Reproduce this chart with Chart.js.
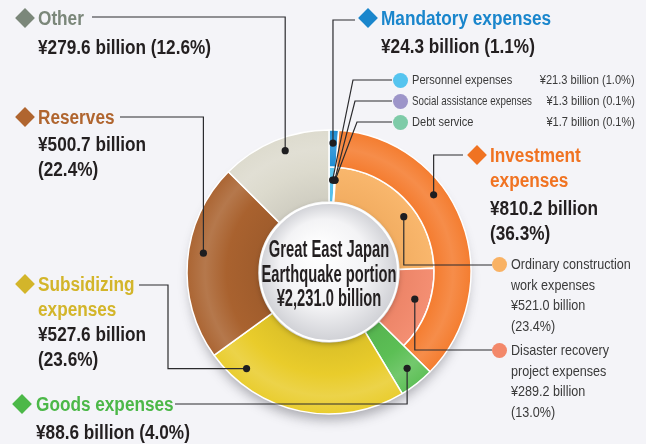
<!DOCTYPE html>
<html lang="en">
<head>
<meta charset="UTF-8">
<title>Great East Japan Earthquake portion</title>
<script src="https://cdn.jsdelivr.net/npm/chart.js@4.4.0/dist/chart.umd.min.js"></script>
<style>
  html, body { margin: 0; padding: 0; background: #f4f4f8; }
  .wrap { position: relative; width: 646px; height: 444px; overflow: hidden;
          font-family: 'Liberation Sans', Arial, sans-serif; }
  canvas { position: absolute; left: 0; top: 0; }
  .t { position: absolute; white-space: nowrap; transform-origin: left center; }
  .big { font-size: 20px; line-height: 24px; font-weight: bold; color: #231f20; transform: scaleX(0.86); }
  .small { font-size: 15px; line-height: 20px; color: #3a3a3a; transform: scaleX(0.84); }
  .note { font-size: 13.5px; line-height: 18px; color: #3a3a3a; transform: scaleX(0.82); }
  .mid { font-size: 23px; line-height: 24px; font-weight: bold; color: #231f20;
         transform-origin: center; text-align: center; width: 260px; transform: scaleX(0.64); }
  .diamond { position: absolute; transform: rotate(45deg); }
  .dot { position: absolute; border-radius: 50%; }
</style>
</head>
<body>
<div class="wrap" id="wrap">
  <canvas id="chart" width="646" height="444"></canvas>
</div>
<script>
// budget breakdown, billions of yen
const categories = ['Mandatory expenses', 'Investment expenses', 'Goods expenses', 'Subsidizing expenses', 'Reserves', 'Other'];
const amounts = [24.3, 810.2, 88.6, 527.6, 500.7, 279.6];
const shares = [1.1, 36.3, 4.0, 23.6, 22.4, 12.6];

const subCategories = ['Personnel expenses', 'Social assistance expenses', 'Debt service',
  'Ordinary construction work expenses', 'Disaster recovery project expenses'];
const subAmounts = [21.3, 1.3, 1.7, 521.0, 289.2];
const subShares = [1.0, 0.1, 0.1, 23.4, 13.0];
const totalAmount = 2231.0;

const mainColors = ['#1b8bd2', '#f47a2c', '#5cbf55', '#e9cc2b', '#a9622f', '#dcdacd'];
const titleColors = ['#1a86cc', '#f07322', '#4cb848', '#d3b52a', '#b0652f', '#7b877a'];
const subColors = ['#55c4ef', '#9d95c9', '#7ecba8', '#f9b264', '#f3886a'];

// categories that are split in the inner ring: 0 and 1; the rest fill the whole band
const splitCount = 2;
const innerData = subAmounts.concat(amounts.slice(splitCount));

const R_OUT = 142, R_MID = 105, R_IN = 70;

function mix(hex, target, t) {
  const n = parseInt(hex.slice(1), 16);
  const c = [n >> 16, (n >> 8) & 255, n & 255].map(v => Math.round(v + (target - v) * t));
  return 'rgb(' + c.join(',') + ')';
}

function radial(c, color, r0, r1, stops) {
  const area = c.chart.chartArea;
  if (!area) return color;
  const cx = (area.left + area.right) / 2, cy = (area.top + area.bottom) / 2;
  const g = c.chart.ctx.createRadialGradient(cx, cy, r0, cx, cy, r1);
  stops.forEach(s => g.addColorStop(s[0], s[1] > 0 ? mix(color, 255, s[1]) : mix(color, 0, -s[1])));
  return g;
}

const fmt = v => v.toLocaleString('en-US', { minimumFractionDigits: 1, maximumFractionDigits: 1 });

// where each leader dot sits: position along the slice and distance from centre
const leaders = [
  { ds: 0, i: 0, f: 0.45, r: 129, path: d => [[355, 20], [d.x, 20], [d.x, d.y]] },
  { ds: 0, i: 1, f: 0.38, r: 130, path: d => [[463, 155], [d.x, 155], [d.x, d.y]] },
  { ds: 0, i: 2, f: 0.44, r: 124, path: d => [[175, 404], [d.x, 404], [d.x, d.y]] },
  { ds: 0, i: 3, f: 0.84, r: 127, path: d => [[139, 285], [168, 285], [168, d.y], [d.x, d.y]] },
  { ds: 0, i: 4, f: 0.55, r: 127, path: d => [[120, 117], [d.x, 117], [d.x, d.y]] },
  { ds: 0, i: 5, f: 0.56, r: 129, path: d => [[92, 17], [d.x, 17], [d.x, d.y]] },
  { ds: 1, i: 0, f: 0.65, r: 92, path: d => [[392, 80], [353, 80], [d.x, d.y]] },
  { ds: 1, i: 1, f: 0.5, r: 92, path: d => [[392, 101], [355, 101], [d.x, d.y]] },
  { ds: 1, i: 2, f: 0.5, r: 92, path: d => [[392, 122], [357, 122], [d.x, d.y]] },
  { ds: 1, i: 3, f: 0.59, r: 93, path: d => [[492, 265], [d.x, 265], [d.x, d.y]] },
  { ds: 1, i: 4, f: 0.42, r: 90, path: d => [[492, 350], [d.x, 350], [d.x, d.y]] }
];

const sunburst = {
  id: 'sunburst',
  afterDatasetsUpdate(chart) {
    // whole-band categories: stretch the outer arcs down to the hub
    const outer = chart.getDatasetMeta(0), inner = chart.getDatasetMeta(1);
    for (let i = splitCount; i < outer.data.length; i++) {
      outer.data[i].innerRadius = inner.controller.innerRadius;
    }
  },
  beforeDatasetsDraw(chart) {
    const { ctx, chartArea } = chart;
    const cx = (chartArea.left + chartArea.right) / 2, cy = (chartArea.top + chartArea.bottom) / 2;
    ctx.save();
    ctx.shadowColor = 'rgba(60,60,70,0.4)';
    ctx.shadowBlur = 12;
    ctx.shadowOffsetY = 9;
    ctx.fillStyle = '#f4f4f8';
    ctx.beginPath();
    ctx.arc(cx, cy, R_OUT - 3, 0, Math.PI * 2);
    ctx.fill();
    ctx.restore();
  },
  afterDatasetsDraw(chart) {
    const { ctx, chartArea } = chart;
    const cx = (chartArea.left + chartArea.right) / 2, cy = (chartArea.top + chartArea.bottom) / 2;
    // hub
    ctx.save();
    ctx.shadowColor = 'rgba(0,0,0,0.35)';
    ctx.shadowBlur = 6;
    ctx.shadowOffsetY = 2;
    const g = ctx.createRadialGradient(cx - 12, cy - 22, 5, cx, cy, R_IN);
    g.addColorStop(0, '#ffffff');
    g.addColorStop(0.6, '#f3f3f5');
    g.addColorStop(1, '#cfd0d5');
    ctx.fillStyle = g;
    ctx.beginPath();
    ctx.arc(cx, cy, R_IN - 1, 0, Math.PI * 2);
    ctx.fill();
    ctx.restore();
    ctx.save();
    ctx.strokeStyle = '#ffffff';
    ctx.lineWidth = 2;
    ctx.beginPath();
    ctx.arc(cx, cy, R_IN - 1, 0, Math.PI * 2);
    ctx.stroke();
    ctx.restore();

    // leader lines
    ctx.save();
    ctx.strokeStyle = '#2b2b2e';
    ctx.fillStyle = '#1e1e20';
    ctx.lineWidth = 1.2;
    leaders.forEach(l => {
      const arc = chart.getDatasetMeta(l.ds).data[l.i];
      const a = arc.startAngle + (arc.endAngle - arc.startAngle) * l.f;
      const d = { x: arc.x + Math.cos(a) * l.r, y: arc.y + Math.sin(a) * l.r };
      const pts = l.path(d);
      ctx.beginPath();
      ctx.moveTo(pts[0][0], pts[0][1]);
      pts.slice(1).forEach(p => ctx.lineTo(p[0], p[1]));
      ctx.stroke();
      ctx.beginPath();
      ctx.arc(d.x, d.y, 3.6, 0, Math.PI * 2);
      ctx.fill();
    });
    ctx.restore();
  }
};

new Chart(document.getElementById('chart'), {
  type: 'doughnut',
  data: {
    labels: categories,
    datasets: [{
      data: amounts,
      weight: R_OUT - R_MID,
      backgroundColor: c => radial(c, mainColors[c.dataIndex], R_IN, R_OUT,
        [[0, -0.06], [0.45, 0], [0.75, 0.14], [1, 0.02]]),
      borderColor: '#ffffff',
      borderWidth: 1.5
    }, {
      data: innerData,
      weight: R_MID - R_IN,
      backgroundColor: c => c.dataIndex < subColors.length
        ? radial(c, subColors[c.dataIndex], R_IN, R_MID, [[0, -0.03], [1, 0.06]])
        : 'rgba(0,0,0,0)',
      borderColor: '#ffffff',
      borderWidth: c => c.dataIndex < subColors.length ? 1.5 : 0
    }]
  },
  options: {
    responsive: false,
    animation: false,
    events: [],
    radius: R_OUT,
    cutout: (R_IN / R_OUT * 100) + '%',
    layout: { padding: { left: 12, top: 100, right: 0, bottom: 0 } },
    plugins: { legend: { display: false }, tooltip: { enabled: false } }
  },
  plugins: [sunburst]
});

// ---- text ----
const wrap = document.getElementById('wrap');
function put(text, x, yc, cls, lh, color) {
  const el = document.createElement('div');
  el.className = 't ' + cls;
  el.textContent = text;
  el.style.left = x + 'px';
  el.style.top = (yc - lh / 2) + 'px';
  if (color) el.style.color = color;
  wrap.appendChild(el);
  return el;
}
// squeeze a label a bit more if it runs past maxW
function fit(el, scale, maxW) {
  const w = el.getBoundingClientRect().width;
  if (w > maxW) el.style.transform = 'scaleX(' + (scale * maxW / w) + ')';
}
function mark(cls, x, y, size, color) {
  const el = document.createElement('div');
  el.className = cls;
  el.style.left = (x - size / 2) + 'px';
  el.style.top = (y - size / 2) + 'px';
  el.style.width = size + 'px';
  el.style.height = size + 'px';
  el.style.background = color;
  wrap.appendChild(el);
}
const amountText = i => '¥' + fmt(amounts[i]) + ' billion';
const shareText = i => '(' + fmt(shares[i]) + '%)';

// main categories: title lines, value lines, x, first line centre
const mainLabels = [
  { i: 0, x: 381, dx: 368, title: ['Mandatory expenses'], value: [amountText(0) + ' ' + shareText(0)], y: 18, gap: 28 },
  { i: 1, x: 490, dx: 477, title: ['Investment', 'expenses'], value: [amountText(1), shareText(1)], y: 155, gap: 28 },
  { i: 2, x: 36, dx: 22, title: ['Goods expenses'], value: [amountText(2) + ' ' + shareText(2)], y: 404, gap: 28 },
  { i: 3, x: 38, dx: 25, title: ['Subsidizing', 'expenses'], value: [amountText(3), shareText(3)], y: 284, gap: 25 },
  { i: 4, x: 38, dx: 25, title: ['Reserves'], value: [amountText(4), shareText(4)], y: 117, gap: 27 },
  { i: 5, x: 38, dx: 25, title: ['Other'], value: [amountText(5) + ' ' + shareText(5)], y: 18, gap: 29 }
];
mainLabels.forEach(l => {
  mark('diamond', l.dx, l.y, 14, titleColors[l.i]);
  let y = l.y;
  l.title.forEach(s => { put(s, l.x, y, 'big', 24, titleColors[l.i]); y += 25; });
  y += l.gap - 25;
  l.value.forEach(s => { put(s, l.x, y, 'big', 24); y += 25; });
});

// mandatory breakdown rows
[0, 1, 2].forEach(k => {
  const y = 80 + k * 21;
  mark('dot', 400, y, 15, subColors[k]);
  fit(put(subCategories[k], 412, y, 'note', 18), 0.82, 120);
  const v = put('¥' + fmt(subAmounts[k]) + ' billion (' + fmt(subShares[k]) + '%)', 0, y, 'note', 18);
  v.style.left = 'auto';
  v.style.right = '11px';
  v.style.transformOrigin = 'right center';
});

// investment breakdown
[[3, 264, ['Ordinary construction', 'work expenses']], [4, 350, ['Disaster recovery', 'project expenses']]].forEach(r => {
  const k = r[0];
  mark('dot', 499, r[1], 15, subColors[k]);
  const lines = r[2].concat(['¥' + fmt(subAmounts[k]) + ' billion', '(' + fmt(subShares[k]) + '%)']);
  lines.forEach((s, n) => put(s, 511, r[1] + n * 20.7, 'small', 20));
});

// hub caption
['Great East Japan', 'Earthquake portion', '¥' + fmt(totalAmount) + ' billion'].forEach((s, n) => {
  put(s, 199, 249 + n * 24.6, 'mid', 24);
});
</script>
</body>
</html>
